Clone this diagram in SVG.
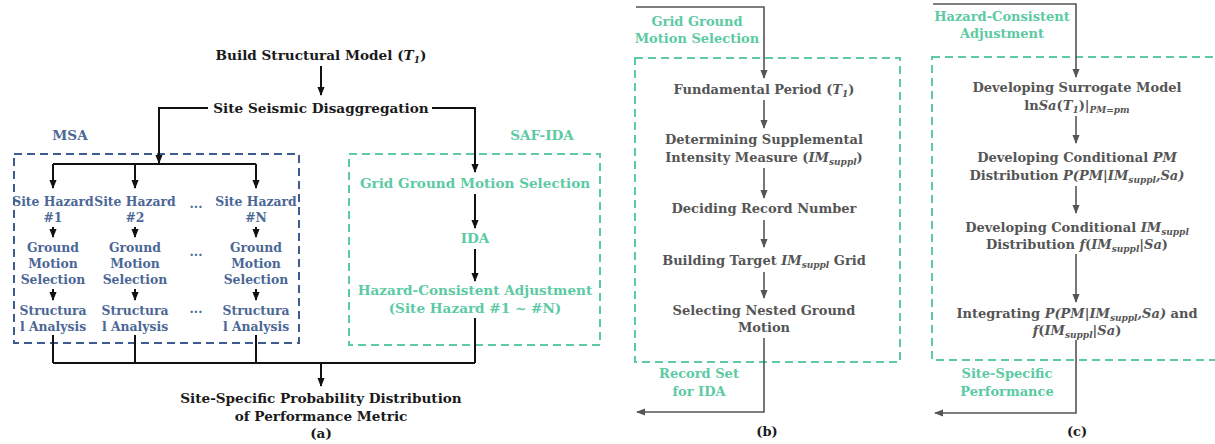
<svg xmlns="http://www.w3.org/2000/svg" width="1215" height="444" viewBox="0 0 1215 444">
<style>
text{font-family:"DejaVu Serif","Liberation Serif",serif;font-weight:bold;font-size:13px;text-anchor:middle}
.big{font-size:13.6px}
.sm{font-size:12.4px}
.k{fill:#1a1a1a}
.b{fill:#4b6796}
.t{fill:#5ccaa3}
.g{fill:#555}
.it{font-style:italic}
.sub{font-size:9px;font-style:italic}
.ck{fill:none;stroke:#111;stroke-width:2}
.cg{fill:none;stroke:#555;stroke-width:1.6}
.db{fill:none;stroke:#3d5b8f;stroke-width:2;stroke-dasharray:8 5}
.dt{fill:none;stroke:#5ccaa3;stroke-width:2;stroke-dasharray:8 5}
</style>
<defs>
<marker id="ak" viewBox="0 0 10 10" refX="9" refY="5" markerWidth="9" markerHeight="9" markerUnits="userSpaceOnUse" orient="auto"><path d="M0,1 L10,5 L0,9 z" fill="#111"/></marker>
<marker id="ag" viewBox="0 0 10 10" refX="9" refY="5" markerWidth="9" markerHeight="9" markerUnits="userSpaceOnUse" orient="auto"><path d="M0,1 L10,5 L0,9 z" fill="#555"/></marker>
</defs>

<!-- group boxes -->
<g id="boxes">
<rect class="db" x="14" y="154" width="285" height="189"/>
<rect class="dt" x="349" y="154" width="251" height="191"/>
<rect class="dt" x="635" y="58" width="265" height="304"/>
<rect class="dt" x="932" y="57" width="290" height="303"/>
</g>

<g id="connectors">
<path class="ck" d="M321,66 V95" marker-end="url(#ak)"/>
<path class="ck" d="M208,108 H159 V163" marker-end="url(#ak)"/>
<path class="ck" d="M53,164 H256"/>
<path class="ck" d="M53,164 V188" marker-end="url(#ak)"/>
<path class="ck" d="M135,164 V188" marker-end="url(#ak)"/>
<path class="ck" d="M256,164 V188" marker-end="url(#ak)"/>
<path class="ck" d="M432,108 H475 V172" marker-end="url(#ak)"/>
<path class="ck" d="M53,227 V237" marker-end="url(#ak)"/>
<path class="ck" d="M135,227 V237" marker-end="url(#ak)"/>
<path class="ck" d="M256,227 V237" marker-end="url(#ak)"/>
<path class="ck" d="M53,289 V300" marker-end="url(#ak)"/>
<path class="ck" d="M135,289 V300" marker-end="url(#ak)"/>
<path class="ck" d="M256,289 V300" marker-end="url(#ak)"/>
<path class="ck" d="M475,194 V228" marker-end="url(#ak)"/>
<path class="ck" d="M475,249 V281" marker-end="url(#ak)"/>
<path class="ck" d="M53,335 V363 M135,335 V363 M256,335 V363 M475,318 V363 M53,363 H475"/>
<path class="ck" d="M321,363 V386" marker-end="url(#ak)"/>

<path class="cg" d="M636,7 H764 V78" marker-end="url(#ag)"/>
<path class="cg" d="M764,100 V128" marker-end="url(#ag)"/>
<path class="cg" d="M764,168 V198" marker-end="url(#ag)"/>
<path class="cg" d="M764,220 V247" marker-end="url(#ag)"/>
<path class="cg" d="M764,272 V298" marker-end="url(#ag)"/>
<path class="cg" d="M764,338 V412 H637" marker-end="url(#ag)"/>

<path class="cg" d="M933,4 H1076 V77" marker-end="url(#ag)"/>
<path class="cg" d="M1076,116 V143" marker-end="url(#ag)"/>
<path class="cg" d="M1076,186 V213" marker-end="url(#ag)"/>
<path class="cg" d="M1076,254 V302" marker-end="url(#ag)"/>
<path class="cg" d="M1076,340 V413 H935" marker-end="url(#ag)"/>
</g>

<!-- panel (a) -->
<g id="build"><text class="k big" x="321" y="60">Build Structural Model (<tspan class="it">T</tspan><tspan class="sub" dy="3">1</tspan><tspan dy="-3">)</tspan></text></g>
<g id="disagg"><text class="k big" x="321" y="113">Site Seismic Disaggregation</text></g>
<g id="msa-label"><text class="b big" x="70" y="140">MSA</text></g>
<g id="safida-label"><text class="t big" x="542" y="140">SAF-IDA</text></g>

<g id="hazard1"><text class="b sm" x="53" y="206">Site Hazard</text><text class="b sm" x="53" y="222">#1</text></g>
<g id="hazard2"><text class="b sm" x="135" y="206">Site Hazard</text><text class="b sm" x="135" y="222">#2</text></g>
<g id="hazardN"><text class="b sm" x="256" y="206">Site Hazard</text><text class="b sm" x="256" y="222">#N</text></g>
<g id="dots1"><text class="b sm" x="196" y="208">...</text></g>

<g id="gm1"><text class="b sm" x="53" y="252">Ground</text><text class="b sm" x="53" y="268">Motion</text><text class="b sm" x="53" y="284">Selection</text></g>
<g id="gm2"><text class="b sm" x="135" y="252">Ground</text><text class="b sm" x="135" y="268">Motion</text><text class="b sm" x="135" y="284">Selection</text></g>
<g id="gmN"><text class="b sm" x="256" y="252">Ground</text><text class="b sm" x="256" y="268">Motion</text><text class="b sm" x="256" y="284">Selection</text></g>
<g id="dots2"><text class="b sm" x="196" y="256">...</text></g>

<g id="sa1"><text class="b sm" x="53" y="315">Structura</text><text class="b sm" x="53" y="331">l Analysis</text></g>
<g id="sa2"><text class="b sm" x="135" y="315">Structura</text><text class="b sm" x="135" y="331">l Analysis</text></g>
<g id="saN"><text class="b sm" x="256" y="315">Structura</text><text class="b sm" x="256" y="331">l Analysis</text></g>
<g id="dots3"><text class="b sm" x="196" y="313">...</text></g>

<g id="grid-sel"><text class="t big" x="475" y="188">Grid Ground Motion Selection</text></g>
<g id="ida"><text class="t big" x="475" y="243">IDA</text></g>
<g id="hca"><text class="t big" x="475" y="295">Hazard-Consistent Adjustment</text><text class="t big" x="475" y="313">(Site Hazard #1 ~ #N)</text></g>

<g id="result"><text class="k big" x="321" y="403">Site-Specific Probability Distribution</text><text class="k big" x="321" y="421">of Performance Metric</text></g>
<g id="label-a"><text class="k big" x="321" y="438">(a)</text></g>

<!-- panel (b) -->
<g id="b-title"><text class="t" x="697" y="26">Grid Ground</text><text class="t" x="697" y="43">Motion Selection</text></g>
<g id="b1"><text class="g" x="764" y="94">Fundamental Period (<tspan class="it">T</tspan><tspan class="sub" dy="3">1</tspan><tspan dy="-3">)</tspan></text></g>
<g id="b2"><text class="g" x="764" y="144">Determining Supplemental</text><text class="g" x="764" y="162">Intensity Measure (<tspan class="it">IM</tspan><tspan class="sub" dy="3">suppl</tspan><tspan dy="-3">)</tspan></text></g>
<g id="b3"><text class="g" x="764" y="213">Deciding Record Number</text></g>
<g id="b4"><text class="g" x="764" y="265">Building Target <tspan class="it">IM</tspan><tspan class="sub" dy="3">suppl</tspan><tspan dy="-3"> Grid</tspan></text></g>
<g id="b5"><text class="g" x="764" y="315">Selecting Nested Ground</text><text class="g" x="764" y="332">Motion</text></g>
<g id="b-out"><text class="t" x="699" y="378">Record Set</text><text class="t" x="699" y="396">for IDA</text></g>
<g id="label-b"><text class="k" x="767" y="436">(b)</text></g>

<!-- panel (c) -->
<g id="c-title"><text class="t" x="1002" y="21">Hazard-Consistent</text><text class="t" x="1002" y="38">Adjustment</text></g>
<g id="c1"><text class="g" x="1077" y="92">Developing Surrogate Model</text><text class="g" x="1077" y="110">ln<tspan class="it">Sa</tspan>(<tspan class="it">T</tspan><tspan class="sub" dy="3">1</tspan><tspan dy="-3">)|</tspan><tspan class="sub" dy="3">PM=pm</tspan></text></g>
<g id="c2"><text class="g" x="1077" y="162">Developing Conditional <tspan class="it">PM</tspan></text><text class="g" x="1077" y="180">Distribution <tspan class="it">P(PM|IM</tspan><tspan class="sub" dy="3">suppl</tspan><tspan class="it" dy="-3">,Sa)</tspan></text></g>
<g id="c3"><text class="g" x="1077" y="232">Developing Conditional <tspan class="it">IM</tspan><tspan class="sub" dy="3">suppl</tspan></text><text class="g" x="1077" y="249">Distribution <tspan class="it">f</tspan>(<tspan class="it">IM</tspan><tspan class="sub" dy="3">suppl</tspan><tspan dy="-3">|</tspan><tspan class="it">Sa</tspan>)</text></g>
<g id="c4"><text class="g" x="1077" y="318">Integrating <tspan class="it">P(PM|IM</tspan><tspan class="sub" dy="3">suppl</tspan><tspan class="it" dy="-3">,Sa)</tspan> and</text><text class="g" x="1077" y="335"><tspan class="it">f</tspan>(<tspan class="it">IM</tspan><tspan class="sub" dy="3">suppl</tspan><tspan dy="-3">|</tspan><tspan class="it">Sa</tspan>)</text></g>
<g id="c-out"><text class="t" x="1007" y="378">Site-Specific</text><text class="t" x="1007" y="396">Performance</text></g>
<g id="label-c"><text class="k" x="1077" y="436">(c)</text></g>
</svg>
